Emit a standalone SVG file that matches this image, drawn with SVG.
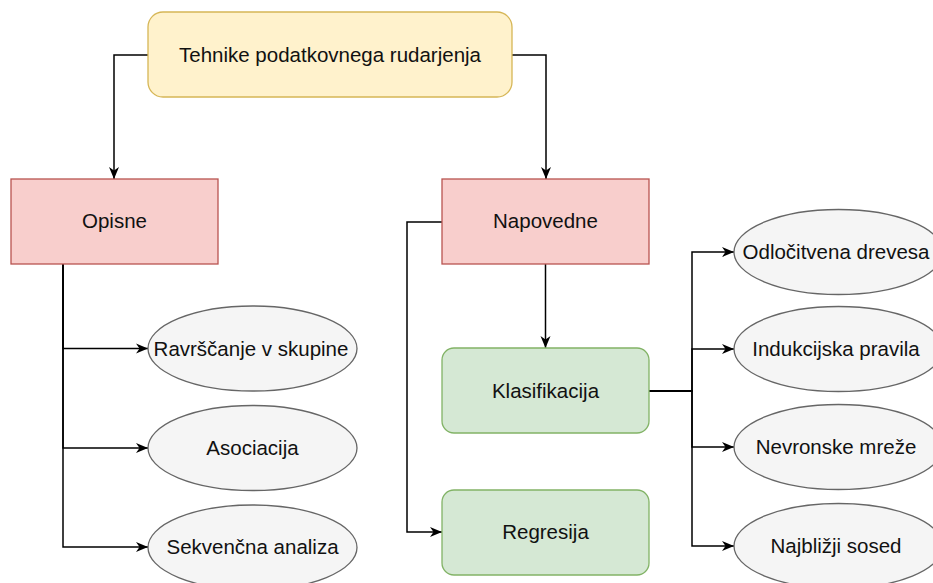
<svg xmlns="http://www.w3.org/2000/svg" width="933" height="583" viewBox="0 0 933 583">
  <style>
    .lbl { font-family: "Liberation Sans", Arial, Helvetica, sans-serif; font-size: 20.5px; fill: #111; text-anchor: middle; dominant-baseline: central; }
    .root { fill: #fff2cc; stroke: #d6b656; stroke-width: 1.3; }
    .cat { fill: #f8cecc; stroke: #b85450; stroke-width: 1.3; }
    .sub { fill: #d5e8d4; stroke: #82b366; stroke-width: 1.3; }
    .leaf { fill: #f5f5f5; stroke: #666666; stroke-width: 1.3; }
    .edge { fill: none; stroke: #000; stroke-width: 1.5; marker-end: url(#arrow); }
  </style>
  <defs>
    <marker id="arrow" markerUnits="userSpaceOnUse" markerWidth="14" markerHeight="12" refX="12" refY="6" orient="auto">
      <path d="M0,1 L12,6 L0,11 L3.5,6 Z" fill="#000"/>
    </marker>
  </defs>
  <rect width="933" height="583" fill="#ffffff"/>

  <g id="connectors">
    <path class="edge" d="M148,55 H114 V179"/>
    <path class="edge" d="M512,55 H546 V179"/>
    <path class="edge" d="M545.5,264 V348"/>
    <path class="edge" d="M442,222 H407 V532 H442"/>
    <path class="edge" d="M63,264 V348.5 H148"/>
    <path class="edge" d="M63,264 V448 H148"/>
    <path class="edge" d="M63,264 V547 H148"/>
    <path class="edge" d="M649,391 H692 V252 H734"/>
    <path class="edge" d="M649,391 H692 V349 H734"/>
    <path class="edge" d="M649,391 H692 V447 H734"/>
    <path class="edge" d="M649,391 H692 V546 H734"/>
  </g>

  <g id="tehnike">
    <rect class="root" x="148" y="12" width="364" height="85" rx="15"/>
    <text class="lbl" x="330" y="54">Tehnike podatkovnega rudarjenja</text>
  </g>
  <g id="opisne">
    <rect class="cat" x="11" y="179" width="207" height="85"/>
    <text class="lbl" x="114.5" y="220">Opisne</text>
  </g>
  <g id="napovedne">
    <rect class="cat" x="442" y="179" width="207" height="85"/>
    <text class="lbl" x="545.5" y="220">Napovedne</text>
  </g>
  <g id="klasifikacija">
    <rect class="sub" x="442" y="348" width="207" height="85" rx="12"/>
    <text class="lbl" x="545.5" y="390">Klasifikacija</text>
  </g>
  <g id="regresija">
    <rect class="sub" x="442" y="490" width="207" height="85" rx="12"/>
    <text class="lbl" x="545.5" y="531">Regresija</text>
  </g>

  <g id="razvrscanje">
    <ellipse class="leaf" cx="252.5" cy="348.5" rx="104.5" ry="42.5"/>
    <text class="lbl" x="251" y="348">Ravrščanje v skupine</text>
  </g>
  <g id="asociacija">
    <ellipse class="leaf" cx="252.5" cy="448" rx="104.5" ry="42.5"/>
    <text class="lbl" x="252.5" y="447">Asociacija</text>
  </g>
  <g id="sekvencna">
    <ellipse class="leaf" cx="252.5" cy="547.5" rx="104.5" ry="42.5"/>
    <text class="lbl" x="252.5" y="546">Sekvenčna analiza</text>
  </g>

  <g id="odlocitvena">
    <ellipse class="leaf" cx="838.5" cy="252" rx="104.5" ry="42.5"/>
    <text class="lbl" x="836" y="251">Odločitvena drevesa</text>
  </g>
  <g id="indukcijska">
    <ellipse class="leaf" cx="838.5" cy="349" rx="104.5" ry="42.5"/>
    <text class="lbl" x="836" y="348">Indukcijska pravila</text>
  </g>
  <g id="nevronske">
    <ellipse class="leaf" cx="838.5" cy="447" rx="104.5" ry="42.5"/>
    <text class="lbl" x="836" y="446">Nevronske mreže</text>
  </g>
  <g id="najblizji">
    <ellipse class="leaf" cx="838.5" cy="546" rx="104.5" ry="42.5"/>
    <text class="lbl" x="836" y="545">Najbližji sosed</text>
  </g>
</svg>
